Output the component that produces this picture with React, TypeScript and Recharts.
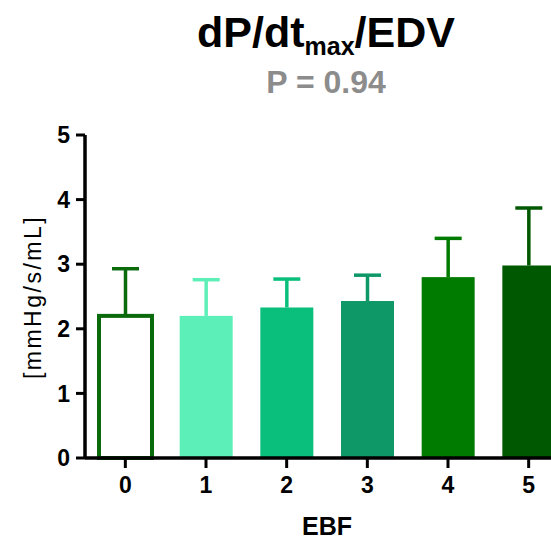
import { Bar, BarChart, Cell, XAxis, YAxis } from "recharts";

const categories = ["0", "1", "2", "3", "4", "5"];
const means = [2.2, 2.2, 2.33, 2.43, 2.8, 2.98];
const sems = [0.73, 0.56, 0.44, 0.4, 0.6, 0.89];
const yTicks = [0, 1, 2, 3, 4, 5];

const fills = ["#ffffff", "#5cefb7", "#0abf7b", "#0e9767", "#007b00", "#005800"];
const strokes = ["#0b6a0b", "#5cefb7", "#0abf7b", "#0e9767", "#007b00", "#005800"];

const data = categories.map((c, i) => ({ ebf: c, mean: means[i], sem: sems[i] }));

const FONT = "'Liberation Sans', Arial, sans-serif";

// bar + upper-only error whisker, colored per group
function BarWithError(props: any) {
  const { x, y, width, height, index, payload } = props;
  const pxPerUnit = height / payload.mean;
  const top = y - payload.sem * pxPerUnit;
  const cx = x + width / 2;
  const col = strokes[index];
  const outlined = index === 0;
  return (
    <g>
      <line x1={cx} x2={cx} y1={y} y2={top} stroke={col} strokeWidth={3.5} />
      <line x1={cx - 13.5} x2={cx + 13.5} y1={top} y2={top} stroke={col} strokeWidth={3.5} />
      <rect
        x={x}
        y={y}
        width={width}
        height={height}
        fill={fills[index]}
        stroke={outlined ? col : "none"}
        strokeWidth={outlined ? 4 : 0}
      />
    </g>
  );
}

export default function App() {
  return (
    <div
      style={{
        position: "absolute",
        left: 0,
        top: 0,
        width: 551,
        height: 539,
        overflow: "hidden",
        background: "#fff",
        fontFamily: FONT,
      }}
    >
      <div
        style={{
          position: "absolute",
          left: 126,
          width: 400,
          top: 10.6,
          textAlign: "center",
          fontSize: 43,
          lineHeight: "43px",
          fontWeight: 700,
          color: "#000",
          whiteSpace: "nowrap",
        }}
      >
        dP/dt<span style={{ fontSize: 25, position: "relative", top: 8 }}>max</span>/EDV
      </div>
      <div
        style={{
          position: "absolute",
          left: 126,
          width: 400,
          top: 66,
          textAlign: "center",
          fontSize: 32,
          lineHeight: "32px",
          fontWeight: 700,
          color: "#8c8c8c",
          whiteSpace: "nowrap",
        }}
      >
        P = 0.94
      </div>
      <svg width={551} height={539} style={{ position: "absolute", left: 0, top: 0 }}>
        <text
          transform="translate(32.5, 297) rotate(-90)"
          textAnchor="middle"
          dominantBaseline="central"
          fontFamily={FONT}
          fontSize={23}
          letterSpacing={2.5}
          fill="#000"
        >
          [mmHg/s/mL]
        </text>
      </svg>
      <div style={{ position: "absolute", left: 0, top: 0 }}>
        <BarChart
          width={569}
          height={539}
          data={data}
          margin={{ top: 135, right: 0, bottom: 0, left: 0 }}
          barSize={53}
        >
          <XAxis
            dataKey="ebf"
            height={81}
            tickSize={10}
            tickMargin={9}
            axisLine={{ stroke: "#000", strokeWidth: 3.5 }}
            tickLine={{ stroke: "#000", strokeWidth: 3 }}
            tick={{ fill: "#000", fontSize: 23, fontWeight: 700, fontFamily: FONT }}
            label={{
              value: "EBF",
              position: "insideBottom",
              offset: 4,
              fill: "#000",
              fontSize: 25,
              fontWeight: 700,
              fontFamily: FONT,
            }}
          />
          <YAxis
            width={85}
            domain={[0, 5]}
            ticks={yTicks}
            interval={0}
            tickSize={9}
            tickMargin={6}
            axisLine={{ stroke: "#000", strokeWidth: 3.5 }}
            tickLine={{ stroke: "#000", strokeWidth: 3 }}
            tick={{ fill: "#000", fontSize: 23, fontWeight: 700, fontFamily: FONT }}
          />
          <Bar dataKey="mean" isAnimationActive={false} shape={<BarWithError />}>
            {data.map((d, i) => (
              <Cell key={d.ebf} fill={fills[i]} />
            ))}
          </Bar>
        </BarChart>
      </div>
    </div>
  );
}
